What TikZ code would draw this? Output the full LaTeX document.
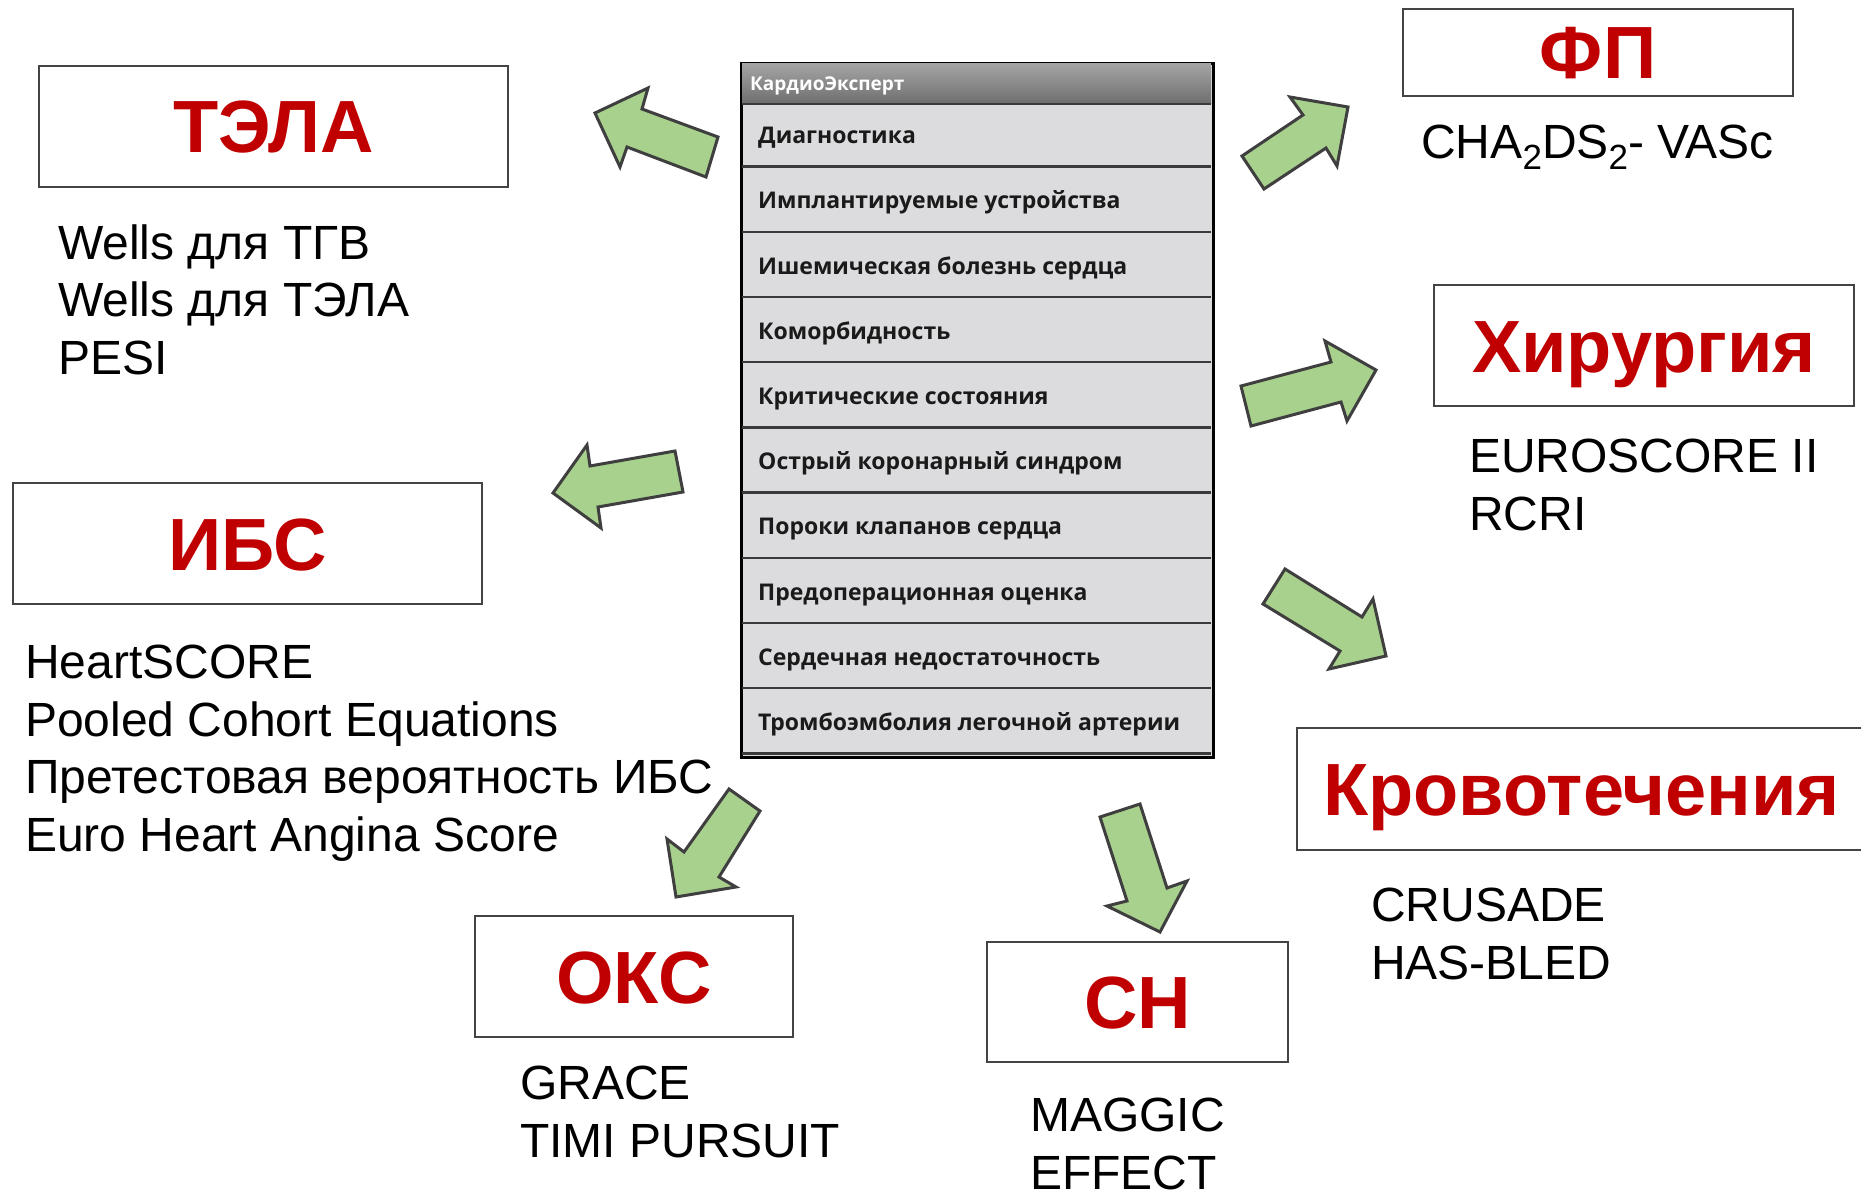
\documentclass[tikz,border=0pt]{standalone}
\usepackage{fontspec}
\setmainfont{Liberation Sans}
\newfontfamily\menufont{Open Sans}
\definecolor{titlered}{HTML}{C00000}
\definecolor{boxgray}{HTML}{444444}
\definecolor{arrowgreen}{HTML}{A9D18E}
\definecolor{arrowborder}{HTML}{3F3F3F}
\definecolor{menubg}{HTML}{DCDBDE}
\definecolor{menuline}{HTML}{3A3A3A}
\definecolor{menutxt}{HTML}{1A1A1A}
\definecolor{hdrtop}{HTML}{A4A4A4}
\definecolor{hdrbot}{HTML}{6E6E6E}
\newcommand\subtwo[1]{\raisebox{-11pt}{\fontsize{35}{35}\selectfont #1}}
\begin{document}
\begin{tikzpicture}[x=1pt,y=-1pt,
  titlebox/.style={draw=boxgray, line width=2.5pt, fill=white, inner sep=0pt,
    text=titlered, font=\bfseries\fontsize{74}{74}\selectfont,
    text height=53pt, text depth=0pt},
  listtext/.style={font=\fontsize{48}{57.5}\selectfont, align=left, anchor=base west, inner sep=0pt},
  menutext/.style={font=\menufont\bfseries\fontsize{23}{23}\selectfont, anchor=base west, inner sep=0pt, text=menutxt},
  bigarrow/.style={fill=arrowgreen, draw=arrowborder, line width=3pt, line join=miter}]
\useasboundingbox (0,0) rectangle (1861,1190);
\fill[white] (0,0) rectangle (1861,1190);

% title boxes
\node[titlebox, minimum width=469pt, minimum height=121pt] (tela) at (273.5,126.5) {ТЭЛА};
\node[titlebox, minimum width=390pt, minimum height=87pt] (fp) at (1598,52.5) {ФП};
\node[titlebox, minimum width=420pt, minimum height=121pt] (hir) at (1644,345.5) {Хирургия};
\node[titlebox, minimum width=469pt, minimum height=121pt] (ibs) at (247.5,543.5) {ИБС};
\node[titlebox, minimum width=569pt, minimum height=122pt] (krov) at (1581.5,789) {Кровотечения};
\node[titlebox, minimum width=318pt, minimum height=121pt] (oks) at (634,976.5) {ОКС};
\node[titlebox, minimum width=301pt, minimum height=120pt] (sn) at (1137.5,1002) {СН};

% lists (base anchor = baseline of the last line)
\node[listtext] (telalist) at (58,374) {Wells для ТГВ\\Wells для ТЭЛА\\PESI};
\node[listtext] (fplist) at (1421,159) {CHA\subtwo{2}DS\subtwo{2}- VASc};
\node[listtext] (hirlist) at (1469,530) {EUROSCORE II\\RCRI};
\node[listtext] (ibslist) at (25,851) {HeartSCORE\\Pooled Cohort Equations\\Претестовая вероятность ИБС\\Euro Heart Angina Score};
\node[listtext] (krovlist) at (1371,979) {CRUSADE\\HAS-BLED};
\node[listtext] (okslist) at (520,1157) {GRACE\\TIMI PURSUIT};
\node[listtext] (snlist) at (1030,1189) {MAGGIC\\EFFECT};

% menu panel
\node[draw=black, line width=3pt, fill=menubg, minimum width=472pt, minimum height=694pt,
  inner sep=0pt, anchor=north west] (menu) at (740,62) {};
\shade[top color=hdrtop, bottom color=hdrbot] (742,64) rectangle (1211,104);
\draw[menuline, line width=1.5pt] (742,104) -- (1211,104);
\node[anchor=base west, inner sep=0pt, text=white, font=\menufont\bfseries\fontsize{19}{19}\selectfont] (hdr) at (750,91) {КардиоЭксперт};
\foreach \k in {0,...,9} {
  \draw[menuline, line width=2.5pt] (742,{166.7+65.18*\k}) -- (1211,{166.7+65.18*\k});
}
\foreach \t [count=\i from 0] in {Диагностика, Имплантируемые устройства, Ишемическая болезнь сердца, Коморбидность, Критические состояния, Острый коронарный синдром, Пороки клапанов сердца, Предоперационная оценка, Сердечная недостаточность, Тромбоэмболия легочной артерии} {
  \node[menutext] (m\i) at (758,{143.8+65.18*\i}) {\t};
}

% block arrows
\draw[bigarrow] (718,137) -- (642,109) -- (648,88) -- (595,113) -- (620,167) -- (627,147) -- (706,177) -- cycle;
\draw[bigarrow] (1242,156) -- (1303,115) -- (1290,97) -- (1348,107) -- (1337,166) -- (1326,148) -- (1264,189) -- cycle;
\draw[bigarrow] (1241,386) -- (1331,362) -- (1325,341) -- (1376,370) -- (1347,421) -- (1341,402) -- (1251,426) -- cycle;
\draw[bigarrow] (1285,569) -- (1362,617) -- (1373,599) -- (1386,656) -- (1329,669) -- (1340,651) -- (1263,604) -- cycle;
\draw[bigarrow] (1140,804) -- (1167,888) -- (1187,881) -- (1160,932) -- (1107,906) -- (1127,901) -- (1100,817) -- cycle;
\draw[bigarrow] (760,811) -- (719,877) -- (736,887) -- (676,897) -- (667,839) -- (684,852) -- (729,789) -- cycle;
\draw[bigarrow] (675,451) -- (590,466) -- (587,445) -- (553,493) -- (601,528) -- (598,507) -- (683,492) -- cycle;
\end{tikzpicture}
\end{document}
